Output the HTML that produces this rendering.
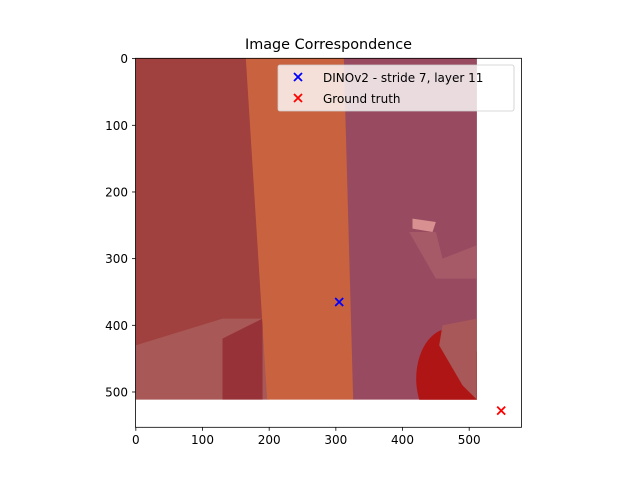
<!DOCTYPE html>
<html><head><meta charset="utf-8"><style>
body{margin:0;background:#fff;}
svg text{font-family:"DejaVu Sans","Liberation Sans",sans-serif;}
</style></head><body>
<svg id="chart" width="640" height="480" xmlns="http://www.w3.org/2000/svg">
<defs><clipPath id="imgclip"><rect x="135.5" y="58.3" width="341.4" height="341.4"/></clipPath></defs>
<rect width="640" height="480" fill="#fff"/>
<text x="328.5" y="49" font-size="14.4" text-anchor="middle">Image Correspondence</text>
<g id="img" clip-path="url(#imgclip)"></g>
<g id="marks"></g>
<rect x="135.5" y="58.3" width="386" height="369" fill="none" stroke="#000" stroke-width="0.8"/>
<g id="ticks"></g>
<g>
<rect x="278" y="65" width="236" height="46" rx="2" fill="#fff" fill-opacity="0.8" stroke="#ccc" stroke-width="0.8"/>
<g>
<path d="M294,73 l8,8 M302,73 l-8,8" stroke="blue" stroke-width="1.8"/>
<text x="323" y="82" font-size="12">DINOv2 - stride 7, layer 11</text></g>
<g>
<path d="M294,94 l8,8 M302,94 l-8,8" stroke="red" stroke-width="1.8"/>
<text x="323" y="103" font-size="12">Ground truth</text></g>
</g>
</svg>
<script>
const xTicks=[0,100,200,300,400,500];
const yTicks=[0,100,200,300,400,500];
const predX=[305], predY=[365];
const gtX=[548], gtY=[528];
const sx=v=>135.5+(v+0.5)*0.6667;
const sy=v=>58.3+(v+0.5)*0.6667;
const NS="http://www.w3.org/2000/svg";
function mk(t,a,p){const e=document.createElementNS(NS,t);for(const k in a)e.setAttribute(k,a[k]);p.appendChild(e);return e;}
const img=document.getElementById('img');
function poly(pts,fill){return mk('polygon',{points:pts.map(p=>sx(p[0])+','+sy(p[1])).join(' '),fill:fill},img);}
poly([[-0.5,-0.5],[511.5,-0.5],[511.5,511.5],[-0.5,511.5]],'#a0413f');
poly([[312,-0.5],[511.5,-0.5],[511.5,511.5],[326,511.5]],'#984b60');
poly([[-0.5,430],[130,390],[190,390],[200,511.5],[-0.5,511.5]],'#a85856');
poly([[130,420],[190,390],[190,511.5],[130,511.5]],'#963238');
poly([[410,260],[450,260],[460,300],[511.5,280],[511.5,330],[450,330]],'#a65a68');
poly([[415,240],[450,245],[445,260],[415,255]],'#d89090');
mk('ellipse',{cx:sx(470),cy:sy(480),rx:33,ry:50,fill:'#b01515'},img);
poly([[460,400],[511.5,390],[511.5,511.5],[490,490],[455,430]],'#a85858');
poly([[165,-0.5],[312,-0.5],[326,511.5],[197,511.5]],'#c9633f');
const ticks=document.getElementById('ticks');
xTicks.forEach(v=>{
 const l=mk('line',{x1:sx(v),x2:sx(v),y1:427.3,y2:430.8,stroke:'#000','stroke-width':0.8},ticks);
 
 
 const t=mk('text',{x:sx(v),y:444,'font-size':12,'text-anchor':'middle'},ticks);t.textContent=v;
 
 
});
yTicks.forEach(v=>{
 const l=mk('line',{x1:132,x2:135.5,y1:sy(v),y2:sy(v),stroke:'#000','stroke-width':0.8},ticks);
 
 
 const t=mk('text',{x:128,y:sy(v)+4.5,'font-size':12,'text-anchor':'end'},ticks);t.textContent=v;
 
 
});
const marks=document.getElementById('marks');
function cross(x,y,c,name){
 const p=mk('path',{d:`M${sx(x)-4},${sy(y)-4} l8,8 M${sx(x)+4},${sy(y)-4} l-8,8`,stroke:c,'stroke-width':1.8},marks);
 
 
}
predX.forEach((x,i)=>cross(x,predY[i],'blue','prediction-point'));
gtX.forEach((x,i)=>cross(x,gtY[i],'red','ground-truth-point'));
</script>
</body></html>
